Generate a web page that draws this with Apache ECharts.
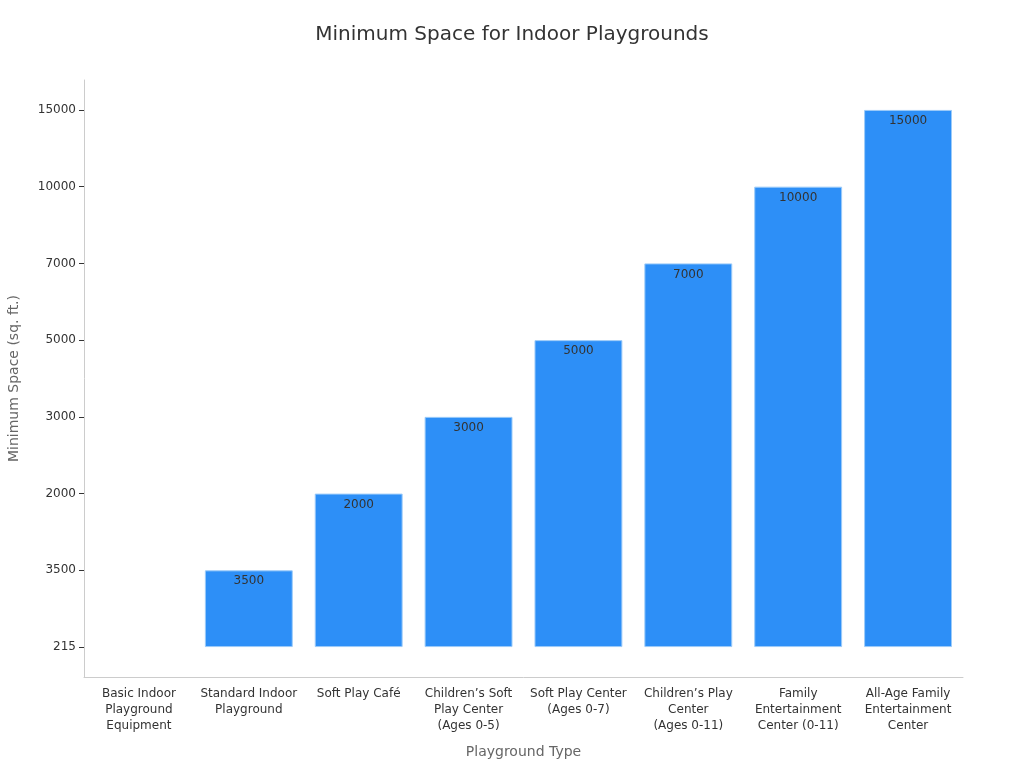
<!DOCTYPE html>
<html>
<head>
<meta charset="utf-8">
<script src="https://cdn.jsdelivr.net/npm/echarts@6/dist/echarts.min.js"></script>
<style>html,body{margin:0;padding:0;background:#fff}#c{width:1024px;height:768px}</style>
</head>
<body>
<div id="c"></div>
<script>
var categories = ['Basic Indoor\nPlayground\nEquipment','Standard Indoor\nPlayground','Soft Play Café','Children’s Soft\nPlay Center\n(Ages 0-5)','Soft Play Center\n(Ages 0-7)','Children’s Play\nCenter\n(Ages 0-11)','Family\nEntertainment\nCenter (0-11)','All-Age Family\nEntertainment\nCenter'];
var yTickLabels = ['215','3500','2000','3000','5000','7000','10000','15000'];
var values = ['215','3500','2000','3000','5000','7000','10000','15000'];

var tickIdx = yTickLabels.map(function(_, i){ return i; });
var barData = values.map(function(v){
  var idx = yTickLabels.indexOf(v);
  var item = { value: idx, name: v };
  if (idx === 0) { item.label = { show: false }; item.itemStyle = { borderWidth: 0, opacity: 0 }; }
  return item;
});

var chart = echarts.init(document.getElementById('c'));
var font = 'DejaVu Sans';
chart.setOption({
  animation: false,
  textStyle: { fontFamily: font },
  title: { text: 'Minimum Space for Indoor Playgrounds', left: 'center', top: 20,
    textStyle: { fontFamily: font, fontSize: 20, fontWeight: 'normal', color: '#333' } },
  grid: { left: 84, right: 61, top: 80, bottom: 91, containLabel: false, outerBoundsMode: 'none' },
  xAxis: {
    type: 'category', data: categories,
    name: 'Playground Type', nameLocation: 'middle', nameGap: 68,
    nameTextStyle: { fontFamily: font, fontSize: 14, color: '#666' },
    axisLine: { onZero: false, lineStyle: { color: '#ccc' } },
    axisTick: { alignWithLabel: true, lineStyle: { color: '#888' } },
    axisLabel: { interval: 0, fontSize: 12, color: '#333', lineHeight: 16, margin: 9 }
  },
  yAxis: {
    type: 'value', min: -0.39, max: 7.39,
    name: 'Minimum Space (sq. ft.)', nameLocation: 'middle', nameGap: 63,
    nameTextStyle: { fontFamily: font, fontSize: 14, color: '#666' },
    axisLine: { show: true, lineStyle: { color: '#ccc' } },
    axisTick: { show: true, customValues: tickIdx, lineStyle: { color: '#333' } },
    axisLabel: { customValues: tickIdx, fontSize: 12, color: '#333',
      formatter: function(v){ return yTickLabels[Math.round(v)]; } },
    splitLine: { show: false }
  },
  series: [{
    type: 'bar', data: barData, barCategoryGap: '20%',
    itemStyle: { color: '#2d8ff7', borderColor: '#9ccbf9', borderWidth: 1 },
    label: { show: true, position: 'insideTop', distance: 5, fontSize: 12, color: '#333',
      formatter: function(p){ return p.name; } }
  }]
});
</script>
</body>
</html>
